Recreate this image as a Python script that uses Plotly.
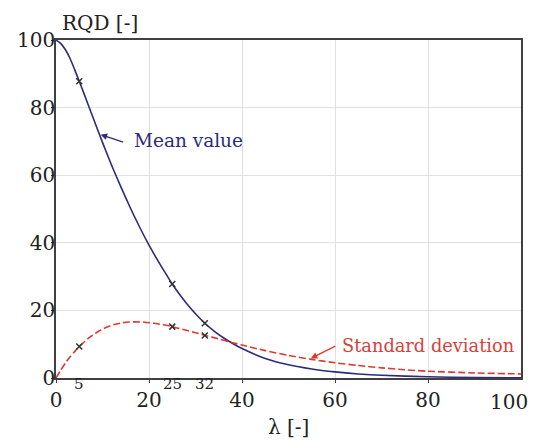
import plotly.graph_objects as go

# Mean value curve
lam_mean = [0, 1, 2, 3, 4, 5, 6, 8, 10, 12, 14, 16, 18, 20, 22, 24, 25, 26, 28, 30, 32, 34, 36, 38,
            40, 45, 50, 55, 60, 65, 70, 80, 90, 100]
rqd_mean = [100, 99.0, 97.2, 94.6, 91.3, 87.8, 84.2, 76.9, 69.7, 62.8, 56.4, 50.3, 44.6, 39.3,
            34.5, 30.0, 27.8, 25.8, 22.2, 19.0, 16.2, 13.9, 11.9, 10.2, 8.7, 5.8, 3.9, 2.65, 1.8,
            1.2, 0.8, 0.35, 0.15, 0.07]

# Standard deviation curve
lam_std = [0, 1, 2, 3, 4, 5, 7, 9, 11, 13, 15, 17, 19, 21, 23, 25, 28, 30, 32, 35, 38, 40, 45,
           50, 55, 60, 65, 70, 75, 80, 90, 100]
rqd_std = [0, 2.3, 4.4, 6.2, 7.8, 9.3, 11.8, 13.7, 15.1, 16.0, 16.5, 16.6, 16.5, 16.2, 15.75,
           15.2, 14.1, 13.4, 12.65, 11.55, 10.45, 9.75, 8.1, 6.7, 5.5, 4.5, 3.7, 3.0, 2.45, 2.0,
           1.5, 1.2]

# Marked points
mark_lam = [5, 25, 32]
mark_mean = [87.8, 27.8, 16.2]
mark_std = [9.3, 15.2, 12.6]

main_ticks = [0, 20, 40, 60, 80, 100]
extra_ticks = ["5", "25", "32"]

navy = "#2d2b7b"
red = "#e0382f"
font = "DejaVu Serif, serif"

fig = go.Figure()
fig.add_trace(go.Scatter(x=lam_mean, y=rqd_mean, mode="lines",
                         line=dict(color=navy, width=1.6, shape="spline", smoothing=0.6),
                         hoverinfo="skip"))
fig.add_trace(go.Scatter(x=lam_std, y=rqd_std, mode="lines",
                         line=dict(color=red, width=1.6, dash="7px,3px", shape="spline", smoothing=0.6),
                         hoverinfo="skip"))
fig.add_trace(go.Scatter(x=mark_lam + mark_lam, y=mark_mean + mark_std, mode="markers",
                         marker=dict(symbol="x-thin", size=6, line=dict(color="#333333", width=1.5)),
                         hoverinfo="skip"))

tickfont = dict(family=font, size=20, color="#222222")
axis_common = dict(range=[0, 100], showgrid=True, gridcolor="#e0e0e0", gridwidth=1,
                   showline=True, linecolor="#404040", linewidth=1.5, mirror=True,
                   ticks="outside", ticklen=3, tickcolor="#404040", zeroline=False,
                   tickfont=tickfont)
fig.update_xaxes(**axis_common, tickvals=main_ticks[:-1], ticklabelstandoff=0)
fig.update_yaxes(**axis_common, tickvals=main_ticks, ticklabelstandoff=-8)

ann = []
# last x tick label, kept inside the page
ann.append(dict(x=main_ticks[-1], y=0, xref="x", yref="paper", text=str(main_ticks[-1]),
                showarrow=False, xanchor="right", xshift=9, yanchor="middle", yshift=-24,
                font=tickfont))
for t in extra_ticks:
    ann.append(dict(x=float(t), y=0, xref="x", yref="paper", text=t, showarrow=False,
                    yanchor="middle", yshift=-6, font=dict(family=font, size=15, color="#222222")))
ann.append(dict(x=0, y=1, xref="paper", yref="paper", text="RQD [-]", showarrow=False,
                xanchor="left", yanchor="middle", xshift=4, yshift=17, font=tickfont))
ann.append(dict(x=50, y=0, xref="x", yref="paper", text="λ [-]", showarrow=False,
                xanchor="center", yanchor="middle", yshift=-49, font=tickfont))
ann.append(dict(x=9.6, y=72.0, xref="x", yref="y", text="", showarrow=True,
                ax=24, ay=8, axref="pixel", ayref="pixel", arrowhead=2, arrowsize=1,
                arrowwidth=1.3, arrowcolor=navy))
ann.append(dict(x=16.3, y=70.4, xref="x", yref="y", text="Mean value", showarrow=False,
                xanchor="left", yanchor="middle", font=dict(family=font, size=18.5, color=navy)))
ann.append(dict(x=54.8, y=5.8, xref="x", yref="y", text="", showarrow=True,
                ax=26, ay=-13, axref="pixel", ayref="pixel", arrowhead=2, arrowsize=1,
                arrowwidth=1.3, arrowcolor=red))
ann.append(dict(x=61.0, y=9.5, xref="x", yref="y", text="Standard deviation", showarrow=False,
                xanchor="left", yanchor="middle",
                font=dict(family=font, size=17.8, color="#d8403a")))

fig.update_layout(width=533, height=441, margin=dict(l=56, r=10, t=40, b=63),
                  paper_bgcolor="white", plot_bgcolor="white", showlegend=False,
                  annotations=ann)
fig.write_html("out.html")
